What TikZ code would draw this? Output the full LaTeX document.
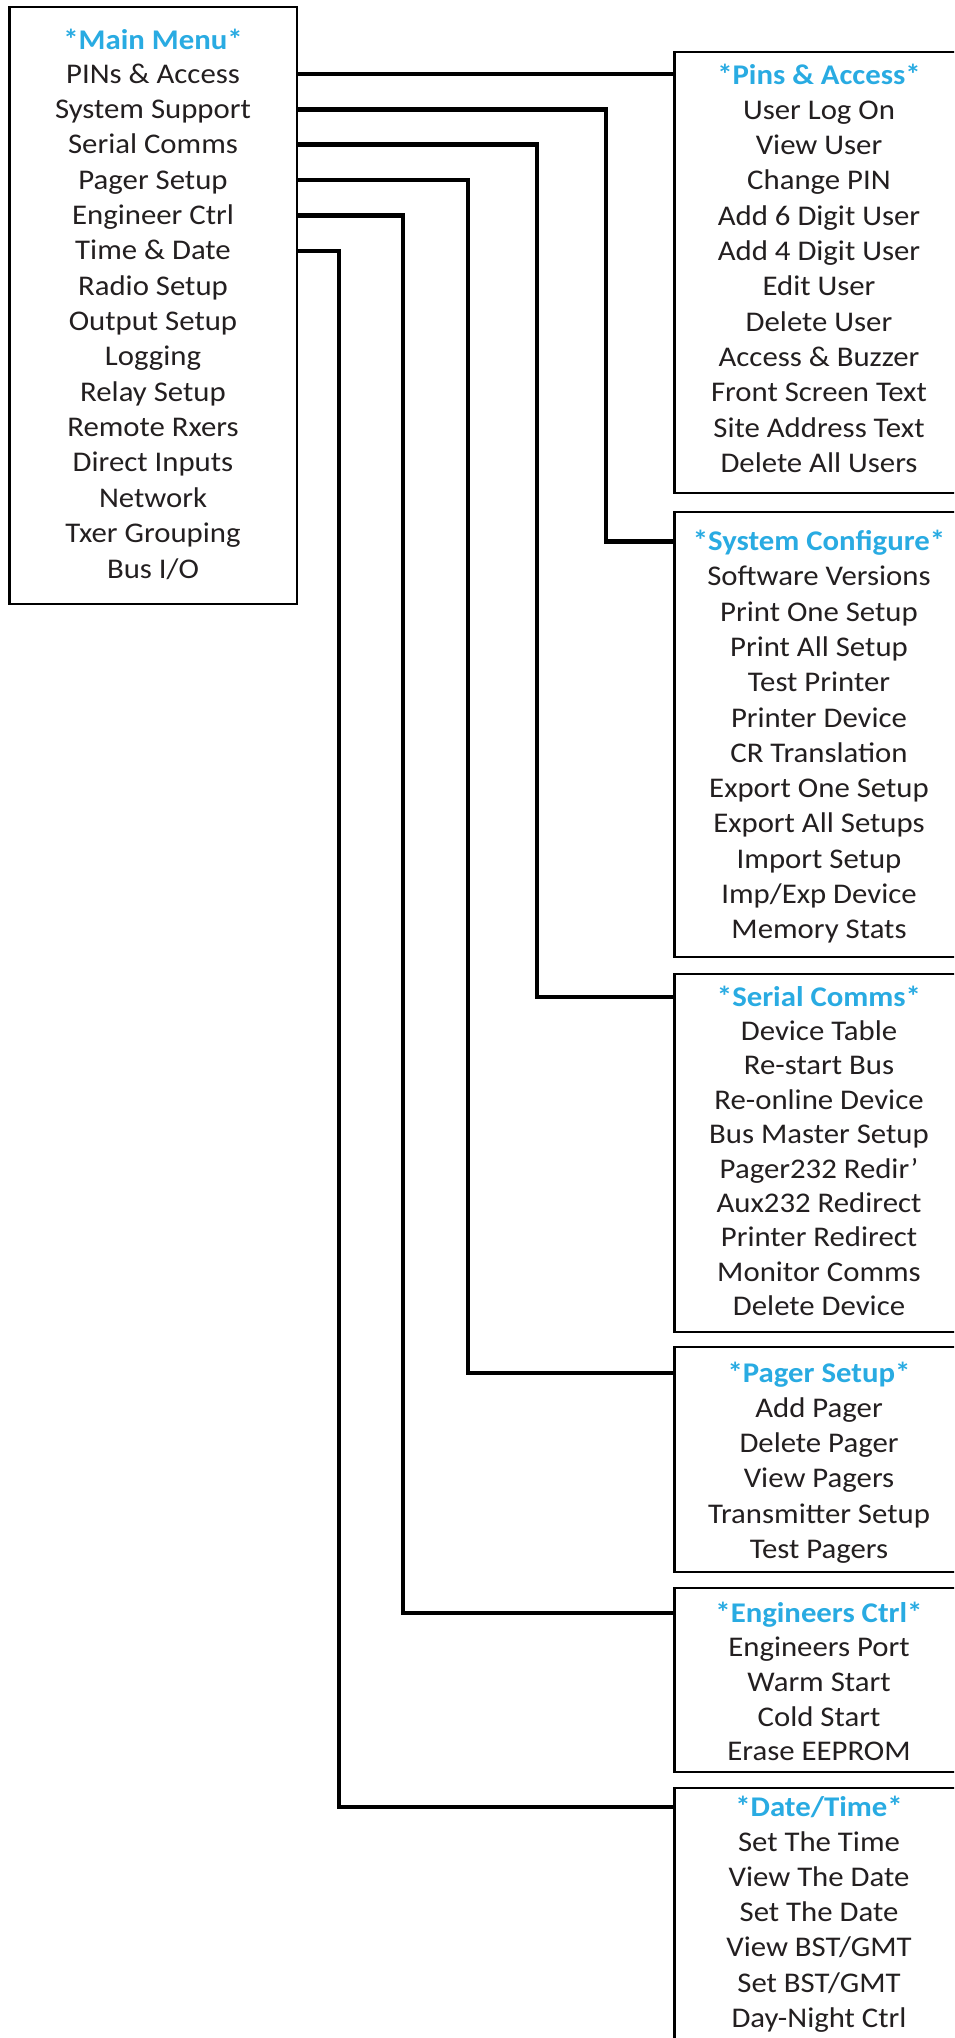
\documentclass[tikz,border=0pt]{standalone}
\usepackage{fontspec}
\setmainfont[FakeStretch=1.08]{Carlito}
\definecolor{hdr}{HTML}{29ABE2}
\definecolor{txt}{HTML}{231F20}
\begin{document}
\begin{tikzpicture}[x=1pt,y=-1pt,
  box/.style={draw=black, line width=2.5pt, anchor=north west, inner sep=0pt, outer sep=0pt},
  item/.style={font=\fontsize{28.5}{32}\selectfont, text=txt, inner sep=0pt, text height=18pt, text depth=0pt, anchor=center},
  hd/.style={item, font=\fontsize{28.5}{32}\selectfont\bfseries, text=hdr},
  conn/.style={draw=black, line width=4.5pt, line join=miter}]
\useasboundingbox (0,0) rectangle (954,2038);
\clip (0,0) rectangle (954,2038);
\fill[white] (0,0) rectangle (954,2038);
% boxes
\node[box, minimum width=287.5pt, minimum height=597pt] (main) at (9.5,7) {};
\node[box, minimum width=300pt, minimum height=441pt] (pins) at (674.5,52) {};
\node[box, minimum width=300pt, minimum height=445pt] (sys) at (674.5,512) {};
\node[box, minimum width=300pt, minimum height=358pt] (ser) at (674.5,974) {};
\node[box, minimum width=300pt, minimum height=225pt] (pag) at (674.5,1347) {};
\node[box, minimum width=300pt, minimum height=184pt] (eng) at (674.5,1588) {};
\node[box, minimum width=300pt, minimum height=312pt] (dat) at (674.5,1788) {};
% main menu
\node[hd] (mh) at (153,40) {*Main Menu*};
\foreach \t [count=\i] in {PINs \& Access, System Support, Serial Comms, Pager Setup, Engineer Ctrl, Time \& Date, Radio Setup, Output Setup, Logging, Relay Setup, Remote Rxers, Direct Inputs, Network, Txer Grouping, Bus I/O}
  \node[item] (m\i) at (153,{74+35.36*(\i-1)}) {\t};
% pins & access
\node[hd] (ph) at (819,75) {*Pins \& Access*};
\foreach \t [count=\i] in {User Log On, View User, Change PIN, Add 6 Digit User, Add 4 Digit User, Edit User, Delete User, Access \& Buzzer, Front Screen Text, Site Address Text, Delete All Users}
  \node[item] (p\i) at (819,{75+35.3*\i}) {\t};
% system configure
\node[hd] (sh) at (819,541.5) {*System Configure*};
\foreach \t [count=\i] in {Software Versions, Print One Setup, Print All Setup, Test Printer, Printer Device, CR Translation, Export One Setup, Export All Setups, Import Setup, Imp/Exp Device, Memory Stats}
  \node[item] (s\i) at (819,{541.5+35.3*\i}) {\t};
% serial comms
\node[hd] (ch) at (819,997) {*Serial Comms*};
\foreach \t [count=\i] in {Device Table, Re-start Bus, Re-online Device, Bus Master Setup, Pager232 Redir’, Aux232 Redirect, Printer Redirect, Monitor Comms, Delete Device}
  \node[item] (c\i) at (819,{997+34.4*\i}) {\t};
% pager setup
\node[hd] (gh) at (819,1373) {*Pager Setup*};
\foreach \t [count=\i] in {Add Pager, Delete Pager, View Pagers, Transmitter Setup, Test Pagers}
  \node[item] (g\i) at (819,{1373+35.3*\i}) {\t};
% engineers ctrl
\node[hd] (eh) at (819,1613) {*Engineers Ctrl*};
\foreach \t [count=\i] in {Engineers Port, Warm Start, Cold Start, Erase EEPROM}
  \node[item] (e\i) at (819,{1613+34.7*\i}) {\t};
% date/time
\node[hd] (dh) at (819,1807) {*Date/Time*};
\foreach \t [count=\i] in {Set The Time, View The Date, Set The Date, View BST/GMT, Set BST/GMT, Day-Night Ctrl}
  \node[item] (d\i) at (819,{1807+35.2*\i}) {\t};
% connector columns
\coordinate (v2) at (606,0);
\coordinate (v3) at (537,0);
\coordinate (v4) at (468,0);
\coordinate (v5) at (403,0);
\coordinate (v6) at (339,0);
% connectors
\draw[conn] (main.east |- m1) -- (pins.west |- m1);
\draw[conn] (main.east |- m2) -| (v2 |- sh) -- (sys.west |- sh);
\draw[conn] (main.east |- m3) -| (v3 |- ch) -- (ser.west |- ch);
\draw[conn] (main.east |- m4) -| (v4 |- gh) -- (pag.west |- gh);
\draw[conn] (main.east |- m5) -| (v5 |- eh) -- (eng.west |- eh);
\draw[conn] (main.east |- m6) -| (v6 |- dh) -- (dat.west |- dh);
\end{tikzpicture}
\end{document}
